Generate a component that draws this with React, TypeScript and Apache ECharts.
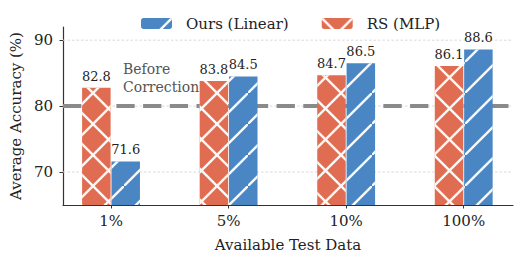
import React, { useEffect, useRef } from "react";
import * as echarts from "echarts";

const categories = ["1%", "5%", "10%", "100%"];
const rsMlp = [82.8, 83.8, 84.7, 86.1];
const oursLinear = [71.6, 84.5, 86.5, 88.6];
const yTicks = [70, 80, 90];
const baseline = 80;
const legendOrder = ["Ours (Linear)", "RS (MLP)"];

const FONT = "DejaVu Serif";
const ORANGE = "#E06D51";
const BLUE = "#4A86C4";

const crossPath =
  "path://M0 0 L1.7 0 L31 29.3 L31 31 L29.3 31 L0 1.7 Z M29.3 0 L31 0 L31 1.7 L1.7 31 L0 31 L0 29.3 Z";
const slashPath = "path://M0 29.3 L29.3 0 L31 0 L31 1.7 L1.7 31 L0 31 Z";

export default function App() {
  const ref = useRef<HTMLDivElement>(null);
  useEffect(() => {
    if (!ref.current) return;
    const chart = echarts.init(ref.current, undefined, { renderer: "svg" });
    const yMin = 65;
    const yMax = 92;
    const hLine = (v: number, lineStyle: any) => ({
      type: "line",
      xAxisIndex: 0,
      yAxisIndex: 0,
      data: [
        [0, v],
        [1, v],
      ],
      z: 0,
      clip: false,
      silent: true,
      symbol: "none",
      showSymbol: false,
      lineStyle,
    });
    const barBase = {
      type: "bar",
      xAxisIndex: 1,
      yAxisIndex: 1,
      barWidth: 28.5,
      barGap: "3%",
      z: 5,
      label: { show: true, position: "top", distance: 5, fontFamily: FONT, fontSize: 13, color: "#222" },
    };
    chart.setOption({
      animation: false,
      textStyle: { fontFamily: FONT },
      legend: {
        data: legendOrder,
        left: 141,
        top: 16,
        padding: 0,
        itemWidth: 31,
        itemHeight: 11,
        itemGap: 33,
        textStyle: { fontFamily: FONT, fontSize: 15, color: "#222", padding: [0, 0, 0, 9] },
      },
      grid: [
        { left: 61, right: 10, top: 27, bottom: 58 },
        { left: 52.25, right: 0.5, top: 27, bottom: 58 },
      ],
      xAxis: [
        {
          type: "value",
          gridIndex: 0,
          min: 0,
          max: 1,
          axisLine: { show: true, onZero: false, lineStyle: { color: "#333", width: 1.2 } },
          axisTick: { show: false },
          axisLabel: { show: false },
          splitLine: { show: false },
          name: "Available Test Data",
          nameLocation: "middle",
          nameGap: 32,
          nameTextStyle: { fontFamily: FONT, fontSize: 15, color: "#222" },
        },
        {
          type: "category",
          gridIndex: 1,
          data: categories,
          axisLine: { show: false },
          axisTick: { show: true, alignWithLabel: true, length: 3.5, lineStyle: { color: "#333", width: 1 } },
          axisLabel: { fontFamily: FONT, fontSize: 15, color: "#222", margin: 8 },
        },
      ],
      yAxis: [
        {
          type: "value",
          gridIndex: 0,
          min: yMin,
          max: yMax,
          axisLine: { show: true, lineStyle: { color: "#333", width: 1.2 } },
          axisTick: { show: true, length: 3.5, customValues: yTicks, lineStyle: { color: "#333" } },
          axisLabel: { customValues: yTicks, fontFamily: FONT, fontSize: 15, color: "#222", margin: 10 },
          splitLine: { show: false },
          name: "Average Accuracy (%)",
          nameLocation: "middle",
          nameGap: 36,
          nameTextStyle: { fontFamily: FONT, fontSize: 15, color: "#222" },
        },
        { type: "value", gridIndex: 1, min: yMin, max: yMax, show: false },
      ],
      series: [
        ...yTicks.map((v) => hLine(v, { color: "#d9d9d9", width: 1, type: [2.5, 2] })),
        hLine(baseline, { color: "#8a8a8a", width: 4, type: [18.3, 8.4] }),
        {
          ...barBase,
          name: "RS (MLP)",
          data: rsMlp,
          itemStyle: {
            color: ORANGE,
            decal: {
              symbol: crossPath,
              symbolSize: 1,
              dashArrayX: [31, 0],
              dashArrayY: [31, 0],
              color: "rgba(255,255,255,0.95)",
            },
          },
        },
        {
          ...barBase,
          name: "Ours (Linear)",
          data: oursLinear,
          itemStyle: {
            color: BLUE,
            decal: {
              symbol: slashPath,
              symbolSize: 1,
              dashArrayX: [31, 0],
              dashArrayY: [31, 0],
              color: "rgba(255,255,255,0.95)",
            },
          },
        },
      ],
      graphic: [
        {
          type: "text",
          left: 123,
          top: 60,
          z: 10,
          style: {
            text: "Before\nCorrection",
            fontFamily: FONT,
            fontSize: 14,
            lineHeight: 18,
            fill: "#555",
          },
        },
      ],
    });
    return () => chart.dispose();
  }, []);
  return (
    <div
      ref={ref}
      style={{ position: "fixed", left: 0, top: 0, width: 523, height: 263, background: "#fff" }}
    />
  );
}
